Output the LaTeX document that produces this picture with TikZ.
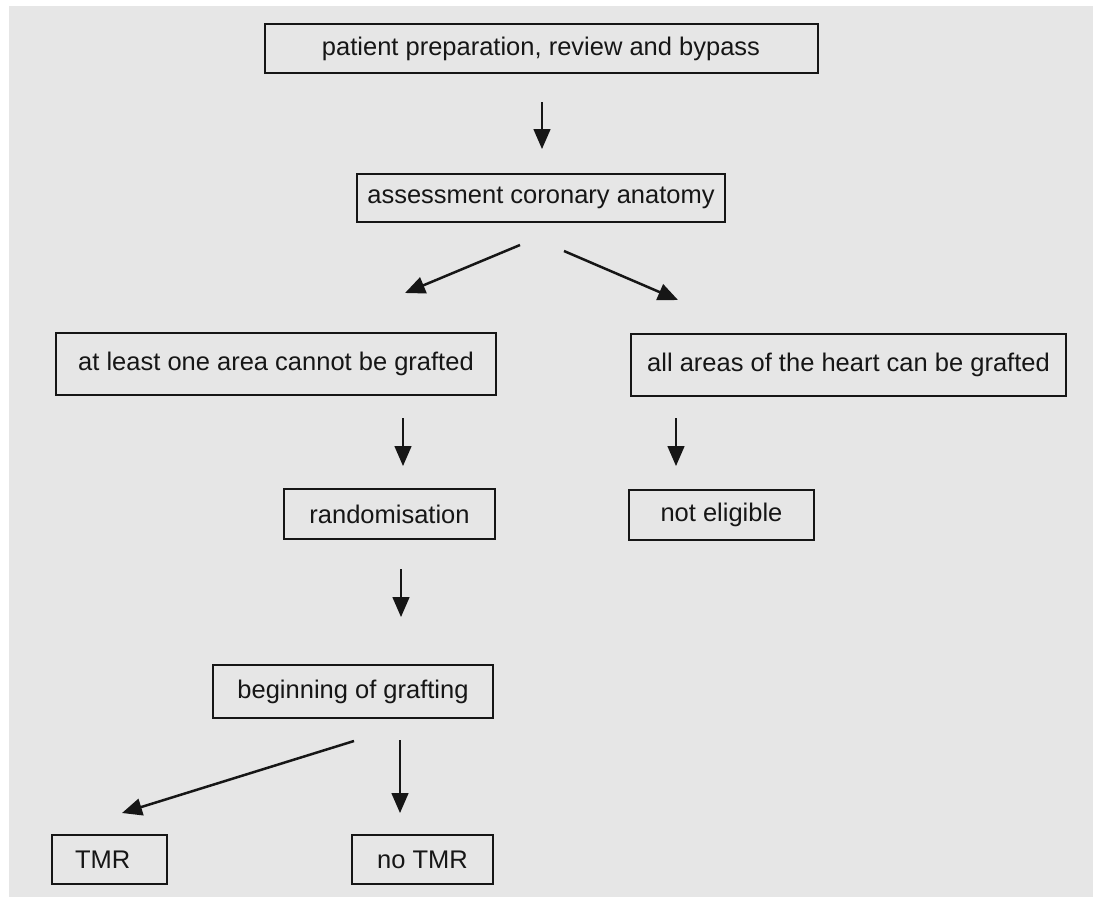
\documentclass[tikz,border=0pt]{standalone}
\usepackage{fontspec}
\setmainfont{Liberation Sans}
\usepackage{tikz}
\usetikzlibrary{arrows.meta, positioning}
\definecolor{paper}{RGB}{230,230,230}
\definecolor{ink}{RGB}{22,22,22}

\begin{document}
\begin{tikzpicture}[x=1pt, y=1pt,
      box/.style={rectangle, draw=ink, line width=2pt, inner sep=0pt, outer sep=0pt, align=center,
        text=ink, font=\fontsize{25.5}{30}\selectfont},
      arrow/.style={-{Triangle[length=20pt, width=17pt]}, draw=ink, fill=ink, line width=1.5pt},
      slant/.style={arrow, line width=2.5pt}]
    \useasboundingbox (0,0) rectangle (1093,-897);
    \fill[white] (0,0) rectangle (1093,-897);
    \fill[paper] (9,-6) rectangle (1093,-897);
    \node[box, minimum width=553pt, minimum height=49pt] (prep) at (541,-48.5) {patient preparation, review and bypass};
    \node[box, minimum width=368pt, minimum height=48pt, below=101pt of prep] (assess) {assessment coronary anatomy};
    \node[box, minimum width=440pt, minimum height=62pt] (nograft) at (276,-364) {at least one area cannot be grafted};
    \node[box, minimum width=435pt, minimum height=62pt] (allgraft) at (848.5,-365) {all areas of the heart can be grafted};
    \node[box, minimum width=211pt, minimum height=50pt] (rand) at (389.5,-514) {randomisation};
    \node[box, minimum width=185pt, minimum height=50pt] (noelig) at (721.5,-515) {not eligible};
    \node[box, minimum width=280pt, minimum height=53pt] (begin) at (353,-691.5) {beginning of grafting};
    \node[box, minimum width=115pt, minimum height=49pt, text width=69pt, align=left] (tmr) at (109.5,-859.5) {TMR};
    \node[box, minimum width=141pt, minimum height=49pt, right=185pt of tmr] (notmr) {no TMR};
    \coordinate (p1) at (542,-102); \coordinate (q1) at (542,-149);
    \coordinate (p2) at (520,-245); \coordinate (q2) at (405,-293);
    \coordinate (p3) at (564,-251); \coordinate (q3) at (678,-300);
    \coordinate (p4) at (403,-418); \coordinate (q4) at (403,-466);
    \coordinate (p5) at (676,-418); \coordinate (q5) at (676,-466);
    \coordinate (p6) at (401,-569); \coordinate (q6) at (401,-617);
    \coordinate (p7) at (354,-741); \coordinate (q7) at (122,-813);
    \coordinate (p8) at (400,-740); \coordinate (q8) at (400,-813);
    \draw[arrow] (p1)--(q1); \draw[slant] (p2)--(q2); \draw[slant] (p3)--(q3); \draw[arrow] (p4)--(q4);
    \draw[arrow] (p5)--(q5); \draw[arrow] (p6)--(q6); \draw[slant] (p7)--(q7); \draw[arrow] (p8)--(q8);
  \end{tikzpicture}
\end{document}
